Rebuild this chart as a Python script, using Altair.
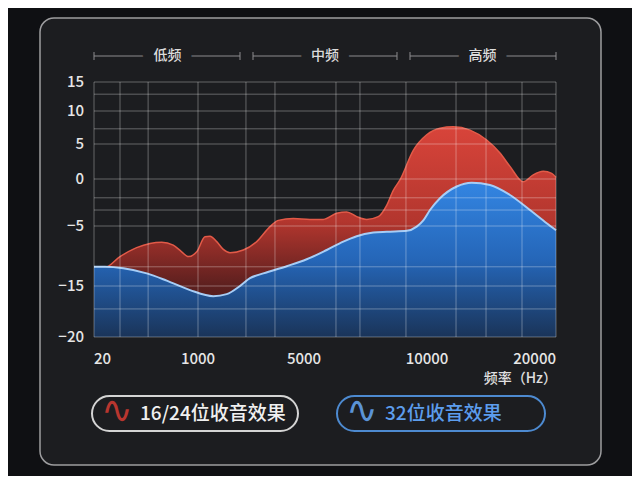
import altair as alt
import pandas as pd

# frequency response curves (Hz, dB)
red_hz = [20, 124, 265, 422, 548, 658, 767, 846, 909, 988, 1264, 1453, 1706, 1955,
          2208, 2710, 3216, 3717, 4030, 4596, 5244, 5785, 6329, 6736, 7142, 7549,
          8020, 8362, 8630, 8902, 9443, 9988, 11008, 12038, 13333, 14627, 15658,
          16433, 17463, 18238, 19013, 19665, 20000]
red_db = [-11.8, -11.9, -10.1, -8.6, -7.9, -7.7, -8.2, -9.3, -10.1, -9.3, -6.8, -6.7,
          -7.6, -8.9, -9.45, -9.0, -7.6, -5.1, -4.4, -4.2, -4.3, -4.3, -3.65, -3.5,
          -4.0, -4.3, -4.0, -2.8, -1.2, -0.1, 4.1, 6.4, 7.4, 7.6, 7.1, 5.6, 3.7,
          1.8, -0.3, 0.6, 1.1, 0.8, 0.2]

blue_hz = [20, 124, 296, 517, 705, 925, 1577, 2083, 2585, 2962, 3464, 4347, 5110,
           5923, 6598, 7142, 7817, 8362, 9175, 9581, 9850, 10233, 11008, 12302,
           13464, 14883, 16433, 17983, 19277, 20000]
blue_db = [-11.8, -11.8, -12.05, -12.9, -14.1, -15.4, -16.0, -15.8, -15.0, -13.7,
           -12.9, -11.7, -10.55, -9.0, -7.6, -6.7, -6.1, -5.95, -5.8, -5.1, -4.4,
           -3.3, -2.05, -0.8, -0.4, -0.64, -1.7, -3.3, -4.7, -5.7]

# axis ticks (the axes of the original are not linear)
x_ticks = [20, 1000, 5000, 10000, 20000]
y_ticks = [-20, -15, -5, 0, 5, 10, 15]
x_title = "频率（Hz）"

# grid lines
grid_hz = [20, 265, 530, 1000, 2810, 3905, 6300, 7275, 9145, 12250, 14575, 17365, 20000]
grid_db = [15, 12.9, 10, 7.3, 5, 0, -2.0, -3.3, -5, -11.8, -15, -17.25, -20]

# frequency bands on top
band_names = ["低频", "中频", "高频"]
band_start_hz = [20, 3076, 9309]
band_end_hz = [2585, 8780, 20000]
band_mid_hz = [713, 5854, 14300]

legend_labels = ["16/24位收音效果", "32位收音效果"]

FONT = "Noto Sans CJK SC"
PANEL = "#1c1d20"
LABEL = "#e6e6e6"

x_scale = alt.Scale(domain=x_ticks, range=[0, 104, 210, 333, 462], nice=False, zero=False)
y_scale = alt.Scale(domain=y_ticks, range=[255, 204, 144, 97, 62, 29, 0], nice=False, zero=False)


def xq(field):
    return alt.X(f"{field}:Q", scale=x_scale, axis=None)


def yq(field):
    return alt.Y(f"{field}:Q", scale=y_scale, axis=None)


red_df = pd.DataFrame({"hz": red_hz, "db": red_db})
blue_df = pd.DataFrame({"hz": blue_hz, "db": blue_db})
one = pd.DataFrame({"k": [0]})

panel = alt.Chart(one).mark_rect(
    cornerRadius=14, fill=PANEL, stroke="#9d9d9f", strokeWidth=1.5
).encode(x=alt.value(-54), x2=alt.value(507), y=alt.value(-64), y2=alt.value(383))

red_area = alt.Chart(red_df).mark_area(
    interpolate="monotone",
    color=alt.Gradient(
        gradient="linear", x1=1, x2=1, y1=0, y2=1,
        stops=[alt.GradientStop(color="#d8443a", offset=0),
               alt.GradientStop(color="#b3362e", offset=0.45),
               alt.GradientStop(color="#5e201f", offset=0.75),
               alt.GradientStop(color="#3a1518", offset=1)],
    ),
).encode(x=xq("hz"), y=yq("db"), y2=alt.datum(-20))

red_line = alt.Chart(red_df).mark_line(
    interpolate="monotone", color="#e25a48", strokeWidth=1.5
).encode(x=xq("hz"), y=yq("db"))

blue_area = alt.Chart(blue_df).mark_area(
    interpolate="monotone",
    color=alt.Gradient(
        gradient="linear", x1=1, x2=1, y1=0, y2=1,
        stops=[alt.GradientStop(color="#3385e2", offset=0),
               alt.GradientStop(color="#2566b8", offset=0.5),
               alt.GradientStop(color="#1a3459", offset=1)],
    ),
).encode(x=xq("hz"), y=yq("db"), y2=alt.datum(-20))

blue_line = alt.Chart(blue_df).mark_line(
    interpolate="monotone", color="#a6cdf6", strokeWidth=2
).encode(x=xq("hz"), y=yq("db"))

grid_v = alt.Chart(pd.DataFrame({"hz": grid_hz})).mark_rule(
    color="white", opacity=0.32, strokeWidth=1
).encode(x=xq("hz"))

grid_h = alt.Chart(pd.DataFrame({"db": grid_db})).mark_rule(
    color="white", opacity=0.32, strokeWidth=1
).encode(y=yq("db"))

# tick labels, drawn as text through the same scales
txt = dict(font=FONT, fontSize=15, fontWeight=500, color=LABEL)
xlab = pd.DataFrame({"hz": x_ticks})
xlab_base = alt.Chart(xlab).encode(x=xq("hz"), y=alt.value(277), text=alt.Text("hz:Q", format="d"))
xlab_left = xlab_base.mark_text(align="left", **txt).transform_filter(
    alt.datum.hz == x_ticks[0])
xlab_mid = xlab_base.mark_text(align="center", **txt).transform_filter(
    (alt.datum.hz > x_ticks[0]) & (alt.datum.hz < x_ticks[-1]))
xlab_right = xlab_base.mark_text(align="right", **txt).transform_filter(
    alt.datum.hz == x_ticks[-1])
xtitle = alt.Chart(one).mark_text(
    text=x_title, font=FONT, fontSize=14, fontWeight=500, color="#e0e0e0", align="right"
).encode(x=alt.value(463), y=alt.value(297))

ylab = alt.Chart(pd.DataFrame({"db": y_ticks})).mark_text(
    align="right", **txt
).encode(x=alt.value(-10), y=yq("db"), text=alt.Text("db:Q", format="d"))

band_df = pd.DataFrame({"name": band_names, "start": band_start_hz,
                        "end": band_end_hz, "hz": band_mid_hz})
band_line = alt.Chart(band_df).mark_rule(color="#8c8c8e", strokeWidth=1).encode(
    x=xq("start"), x2="end:Q", y=alt.value(-26))
band_tick_a = alt.Chart(band_df).mark_rule(color="#8c8c8e", strokeWidth=1).encode(
    x=xq("start"), y=alt.value(-30), y2=alt.value(-22))
band_tick_b = alt.Chart(band_df).mark_rule(color="#8c8c8e", strokeWidth=1).encode(
    x=xq("end"), y=alt.value(-30), y2=alt.value(-22))
band_mask = alt.Chart(band_df).mark_text(
    font=FONT, fontSize=14, fill=PANEL, stroke=PANEL, strokeWidth=22, strokeJoin="round"
).encode(x=xq("hz"), y=alt.value(-26), text="name:N")
band_text = alt.Chart(band_df).mark_text(
    font=FONT, fontSize=14, fontWeight=500, color="#dcdcdc"
).encode(x=xq("hz"), y=alt.value(-26), text="name:N")


def legend_item(label, x0, x1, line_color, icon_color, text_color):
    pill = alt.Chart(one).mark_rect(
        cornerRadius=17.5, fillOpacity=0, stroke=line_color, strokeWidth=2
    ).encode(x=alt.value(x0), x2=alt.value(x1), y=alt.value(314), y2=alt.value(349))
    icon = alt.Chart(one).mark_text(
        text="∿", font="DejaVu Sans", fontSize=38, color=icon_color
    ).encode(x=alt.value(x0 + 25), y=alt.value(330))
    words = alt.Chart(one).mark_text(
        text=label, font=FONT, fontSize=19, fontWeight=500, color=text_color, align="left"
    ).encode(x=alt.value(x0 + 48), y=alt.value(331.5))
    return pill + icon + words


legend_a = legend_item(legend_labels[0], -2, 204, "#d4d4d4", "#b8362f", "#f0f0f0")
legend_b = legend_item(legend_labels[1], 243, 451, "#4d8ad0", "#5b93d6", "#5c9ded")

chart = alt.layer(
    panel, red_area, red_line, blue_area, blue_line, grid_v, grid_h,
    xlab_left, xlab_mid, xlab_right, xtitle, ylab,
    band_line, band_tick_a, band_tick_b, band_mask, band_text, legend_a, legend_b,
).properties(
    width=462, height=255,
    autosize=alt.AutoSizeParams(type="none"),
    padding={"left": 86, "top": 74, "right": 76, "bottom": 139},
    background="#0f1013",
).configure_view(stroke=None)

chart.save("out.html", embed_options={"renderer": "svg", "actions": False})
